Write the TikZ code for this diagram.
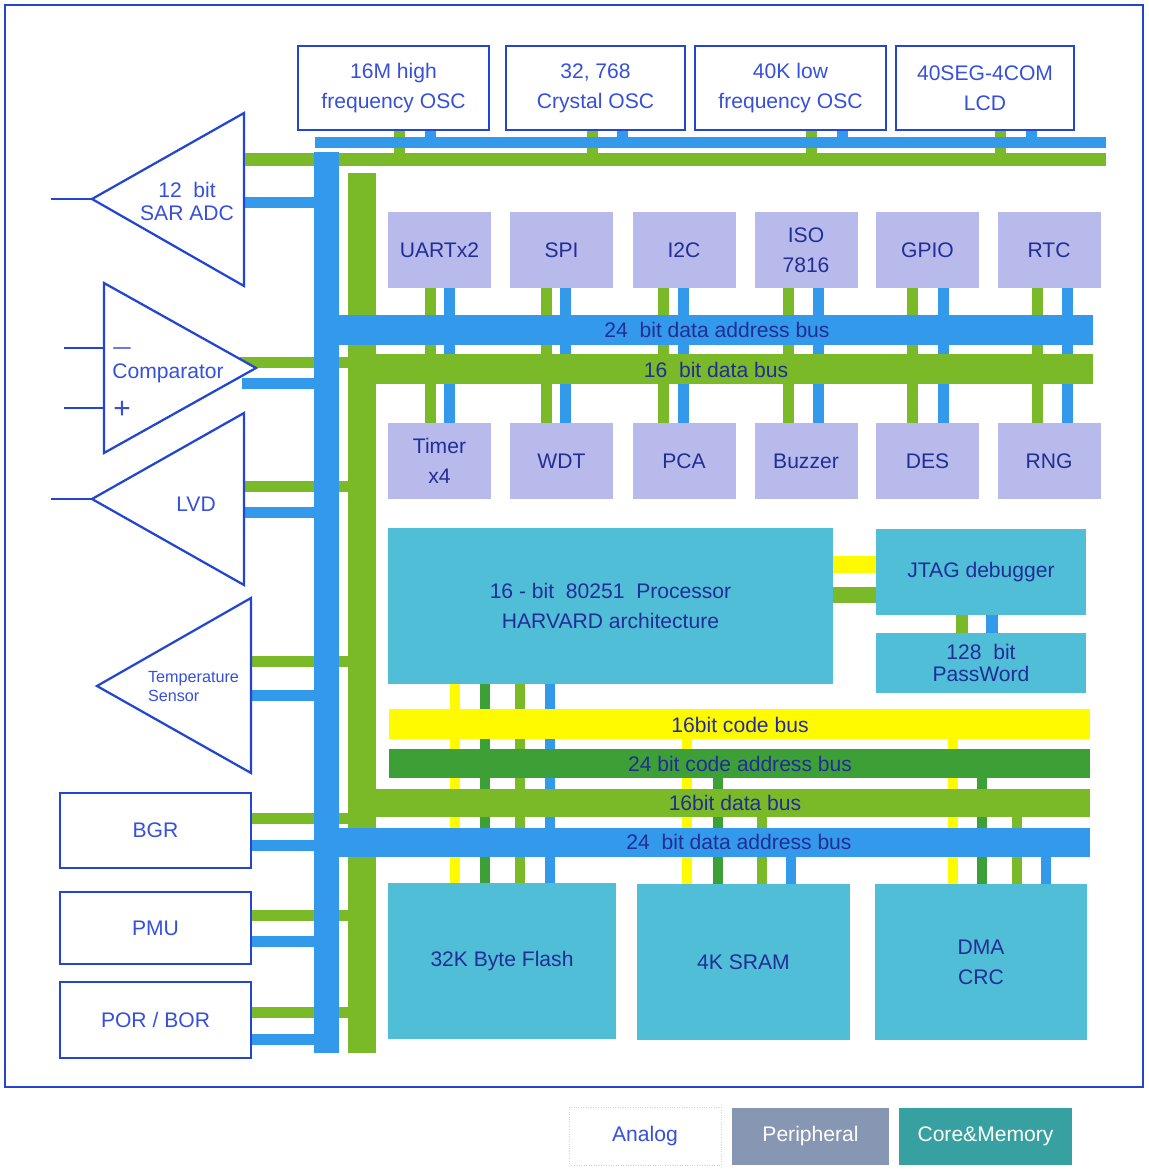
\documentclass[tikz,border=0pt]{standalone}
\usepackage{fontspec}
\setmainfont{Liberation Sans}
\usepackage{tikz}
\pgfdeclarelayer{bg}
\pgfsetlayers{bg,main}
\definecolor{busB}{RGB}{51,153,235}
\definecolor{busG}{RGB}{122,185,40}
\definecolor{busD}{RGB}{60,160,55}
\definecolor{busY}{RGB}{255,250,0}
\definecolor{periF}{RGB}{184,186,235}
\definecolor{coreF}{RGB}{80,190,215}
\definecolor{anaB}{RGB}{35,70,210}
\definecolor{anaT}{RGB}{55,80,220}
\definecolor{navyT}{RGB}{35,45,150}
\definecolor{legPF}{RGB}{135,150,178}
\definecolor{legCF}{RGB}{55,160,160}
\tikzset{
  sz/.style 2 args={minimum width=#1*0.2mm, minimum height=#2*0.2mm},
  anaS/.style ={draw=anaB, line width=0.45mm, fill=white, inner sep=0pt, outer sep=0pt, text=anaT, align=center},
  periS/.style={fill=periF, inner sep=0pt, outer sep=0pt, text=navyT, align=center},
  coreS/.style={fill=coreF, inner sep=0pt, outer sep=0pt, text=navyT, align=center},
  busS/.style ={fill=#1, inner sep=0pt, outer sep=0pt},
  busL/.style ={text=navyT, inner sep=0pt},
  triS/.style ={draw=anaB, line width=0.45mm, fill=white},
  pinS/.style ={draw=anaB, line width=0.45mm},
  signS/.style={text=anaT, inner sep=0pt},
  legS/.style ={inner sep=0pt, outer sep=0pt},
  wB/.style={draw=busB, line width=#1}, wB/.default=2.2mm,
  wG/.style={draw=busG, line width=#1}, wG/.default=2.2mm,
  wD/.style={draw=busD, line width=#1}, wD/.default=2mm,
  wY/.style={draw=busY, line width=#1}, wY/.default=2mm,
}
\begin{document}
\begin{tikzpicture}[x=0.2mm, y=-0.2mm, font=\fontsize{12}{17}\selectfont]
  \begin{pgfonlayer}{bg}
    \fill[white] (0,0) rectangle (1149,1172);
  \end{pgfonlayer}
  \useasboundingbox (0,0) rectangle (1149,1172);
  \draw[draw=anaB, line width=0.4mm] (5,5) rectangle (1143,1087);

  % analog side
  \node[anaS, sz={191}{84}] (osc16) at (393.5,88) {16M high\\frequency OSC};
  \node[anaS, sz={179}{84}] (osc32) at (595.5,88) {32, 768\\Crystal OSC};
  \node[anaS, sz={191}{84}] (osc40) at (790.5,88) {40K low\\frequency OSC};
  \node[anaS, sz={178}{84}] (lcd)   at (985,88)   {40SEG-4COM\\LCD};

  \draw[triS] (92,199) coordinate (adcIn) -- (244,113) -- (244,286) -- cycle;
  \draw[pinS] (51,199) -- (adcIn);
  \node[text=anaT, align=center, font=\fontsize{12}{13.2}\selectfont] (adcT) at (187,201.5) {12\ \ bit\\SAR ADC};

  \draw[triS] (104,283) -- (256,368) -- (104,453) -- cycle;
  \coordinate (cmpM) at (104,348); \coordinate (cmpP) at (104,408);
  \draw[pinS] (cmpM) -- ++(-40,0);  \draw[pinS] (cmpP) -- ++(-40,0);
  \node[signS] (cmpMs) at (122,355) {\smash{\scalebox{1.7}[1]{−}}};
  \node[signS, font=\fontsize{17}{17}\selectfont] (cmpPs) at (122,418) {\smash{+}};
  \node[text=anaT, inner sep=0pt] (cmpT) at (168,373) {Comparator};

  \draw[triS] (92,499) coordinate (lvdIn) -- (244,413) -- (244,585) -- cycle;
  \draw[pinS] (51,499) -- (lvdIn);
  \node[text=anaT] (lvdT) at (196,504) {LVD};

  \draw[triS] (97,686) -- (251,598) -- (251,773) -- cycle;
  \node[text=anaT, align=left, font=\fontsize{9.2}{10.8}\selectfont] (tmpT) at (193.5,686.5) {Temperature\\Sensor};

  \node[anaS, sz={191}{75}] (bgr) at (155.5,830.5) {BGR};
  \node[anaS, sz={191}{72}] (pmu) at (155.5,928)   {PMU};
  \node[anaS, sz={191}{76}] (por) at (155.5,1020)  {POR / BOR};

  % top buses
  \node[busS=busG, sz={861}{13}] (topG) at (675.5,159.5) {};
  \node[busS=busB, sz={791}{11}] (topB) at (710.5,142) {};
  \begin{pgfonlayer}{bg}
    \draw[wG] (osc16.south -| 399.5,0) -- (topG.north -| 399.5,0);
    \draw[wB] (osc16.south -| 430,0)   -- (topB.north -| 430,0);
    \draw[wG] (osc32.south -| 592,0)   -- (topG.north -| 592,0);
    \draw[wB] (osc32.south -| 622.5,0) -- (topB.north -| 622.5,0);
    \draw[wG] (osc40.south -| 811.5,0) -- (topG.north -| 811.5,0);
    \draw[wB] (osc40.south -| 842,0)   -- (topB.north -| 842,0);
    \draw[wG] (lcd.south -| 1000.5,0)  -- (topG.north -| 1000.5,0);
    \draw[wB] (lcd.south -| 1031,0)    -- (topB.north -| 1031,0);
  \end{pgfonlayer}

  % main vertical buses
  \node[busS=busG, sz={28}{880}] (vG) at (362,613) {};
  \node[busS=busB, sz={25}{901}] (vB) at (326.5,602.5) {};
  \begin{pgfonlayer}{bg}
    \coordinate (adcB) at (238,202.5); \draw[wB] (adcB) -- (adcB -| vB.west);
    \coordinate (cmpG) at (240,362.5); \draw[wG] (cmpG) -- (cmpG -| vG.west);
    \coordinate (cmpB) at (242,383.5); \draw[wB] (cmpB) -- (cmpB -| vB.west);
    \coordinate (lvdG) at (238,486);   \draw[wG] (lvdG) -- (lvdG -| vG.west);
    \coordinate (lvdB) at (238,512.5); \draw[wB] (lvdB) -- (lvdB -| vB.west);
    \coordinate (tmpG) at (245,661.5); \draw[wG] (tmpG) -- (tmpG -| vG.west);
    \coordinate (tmpB) at (245,695);   \draw[wB] (tmpB) -- (tmpB -| vB.west);
    \draw[wG] (bgr.east |- 0,818.5) -- (vG.west |- 0,818.5);
    \draw[wB] (bgr.east |- 0,845)   -- (vB.west |- 0,845);
    \draw[wG] (pmu.east |- 0,915)   -- (vG.west |- 0,915);
    \draw[wB] (pmu.east |- 0,941)   -- (vB.west |- 0,941);
    \draw[wG] (por.east |- 0,1012.5) -- (vG.west |- 0,1012.5);
    \draw[wB] (por.east |- 0,1039)  -- (vB.west |- 0,1039);
  \end{pgfonlayer}

  % peripherals
  \node[periS, sz={103}{76}] (uart)  at (439.5,250) {UARTx2};
  \node[periS, sz={103}{76}] (spi)   at (561.5,250) {SPI};
  \node[periS, sz={103}{76}] (i2c)   at (684,250)   {I2C};
  \node[periS, sz={103}{76}] (iso)   at (806,250)   {ISO\\7816};
  \node[periS, sz={103}{76}] (gpio)  at (927.5,250) {GPIO};
  \node[periS, sz={103}{76}] (rtc)   at (1049,250)  {RTC};
  \node[periS, sz={103}{76}] (timer) at (439.5,461) {Timer\\x4};
  \node[periS, sz={103}{76}] (wdt)   at (561.5,461) {WDT};
  \node[periS, sz={103}{76}] (pca)   at (684,461)   {PCA};
  \node[periS, sz={103}{76}] (buzz)  at (806,461)   {Buzzer};
  \node[periS, sz={103}{76}] (des)   at (927.5,461) {DES};
  \node[periS, sz={103}{76}] (rng)   at (1049,461)  {RNG};
  \begin{pgfonlayer}{bg}
    \draw[wG] (uart.south -| 430.5,0) -- (timer.north -| 430.5,0);
    \draw[wB] (uart.south -| 449,0)   -- (timer.north -| 449,0);
    \draw[wG] (spi.south -| 546.5,0)  -- (wdt.north -| 546.5,0);
    \draw[wB] (spi.south -| 565,0)    -- (wdt.north -| 565,0);
    \draw[wG] (i2c.south -| 663,0)    -- (pca.north -| 663,0);
    \draw[wB] (i2c.south -| 683.5,0)  -- (pca.north -| 683.5,0);
    \draw[wG] (iso.south -| 788,0)    -- (buzz.north -| 788,0);
    \draw[wB] (iso.south -| 818.5,0)  -- (buzz.north -| 818.5,0);
    \draw[wG] (gpio.south -| 912.5,0) -- (des.north -| 912.5,0);
    \draw[wB] (gpio.south -| 943,0)   -- (des.north -| 943,0);
    \draw[wG] (rtc.south -| 1037,0)   -- (rng.north -| 1037,0);
    \draw[wB] (rtc.south -| 1067.5,0) -- (rng.north -| 1067.5,0);
  \end{pgfonlayer}
  \node[busS=busG, sz={717}{30}] (dbus)  at (734.5,369) {};
  \node[busS=busB, sz={754}{30}] (dabus) at (716,330) {};
  \node[busL] (dabusL) at (717,330) {24\ \ bit data address bus};
  \node[busL] (dbusL)  at (716,370) {16\ \ bit data bus};

  % core and memory
  \node[coreS, sz={445}{156}] (cpu)   at (610.5,606) {16 - bit\ \ 80251\ \ Processor\\HARVARD architecture};
  \node[coreS, sz={210}{86}]  (jtag)  at (981,572)   {JTAG debugger};
  \node[coreS, sz={210}{60}, font=\fontsize{12}{12.5}\selectfont] (pwd) at (981,663) {128\ \ bit\\PassWord};
  \node[coreS, sz={228}{156}] (flash) at (502,961)   {32K Byte Flash};
  \node[coreS, sz={213}{156}] (sram)  at (743.5,962) {4K SRAM};
  \node[coreS, sz={212}{156}] (dma)   at (981,962)   {DMA\\CRC};

  \node[busS=busY, sz={701}{30}] (cbus)   at (739.5,724)   {};
  \node[busS=busD, sz={701}{29}] (cabus)  at (739.5,763.5) {};
  \node[busS=busG, sz={742}{28}] (dbus2)  at (719,803)     {};
  \node[busS=busB, sz={751}{29}] (dabus2) at (714.5,842.5) {};
  \node[busL] (cbusL)   at (740,725) {16bit code bus};
  \node[busL] (cabusL)  at (740,764) {24 bit code address bus};
  \node[busL] (dbus2L)  at (735,803) {16bit data bus};
  \node[busL] (dabus2L) at (739,842) {24\ \ bit data address bus};

  \begin{pgfonlayer}{bg}
    \draw[wY] (cpu.south -| 455,0)   -- (flash.north -| 455,0);
    \draw[wD] (cpu.south -| 485,0)   -- (flash.north -| 485,0);
    \draw[wG=2mm] (cpu.south -| 519.5,0) -- (flash.north -| 519.5,0);
    \draw[wB=2mm] (cpu.south -| 549.5,0) -- (flash.north -| 549.5,0);
    \draw[wY] (cbus.south -| 687,0)     -- (sram.north -| 687,0);
    \draw[wD] (cabus.south -| 717.5,0)  -- (sram.north -| 717.5,0);
    \draw[wG=2mm] (dbus2.south -| 761.5,0) -- (sram.north -| 761.5,0);
    \draw[wB=2mm] (dabus2.south -| 790.5,0) -- (sram.north -| 790.5,0);
    \draw[wY] (cbus.south -| 952.5,0)   -- (dma.north -| 952.5,0);
    \draw[wD] (cabus.south -| 982,0)    -- (dma.north -| 982,0);
    \draw[wG=2mm] (dbus2.south -| 1017,0) -- (dma.north -| 1017,0);
    \draw[wB=2mm] (dabus2.south -| 1046,0) -- (dma.north -| 1046,0);
    \draw[wY=3.4mm] (cpu.east |- 0,564.5) -- (jtag.west |- 0,564.5);
    \draw[wG=3.2mm] (cpu.east |- 0,595)   -- (jtag.west |- 0,595);
    \draw[wG=2.4mm] (jtag.south -| 962,0) -- (pwd.north -| 962,0);
    \draw[wB=2.4mm] (jtag.south -| 992,0) -- (pwd.north -| 992,0);
  \end{pgfonlayer}

  % legend
  \node[legS, draw=gray!35, densely dotted, text=anaT, sz={152}{58}] (legA) at (645,1136) {Analog};
  \node[legS, fill=legPF, text=white, sz={157}{57}] (legP) at (810.5,1136.5) {Peripheral};
  \node[legS, fill=legCF, text=white, sz={173}{57}] (legC) at (985.5,1136.5) {Core\&Memory};
\end{tikzpicture}
\end{document}
